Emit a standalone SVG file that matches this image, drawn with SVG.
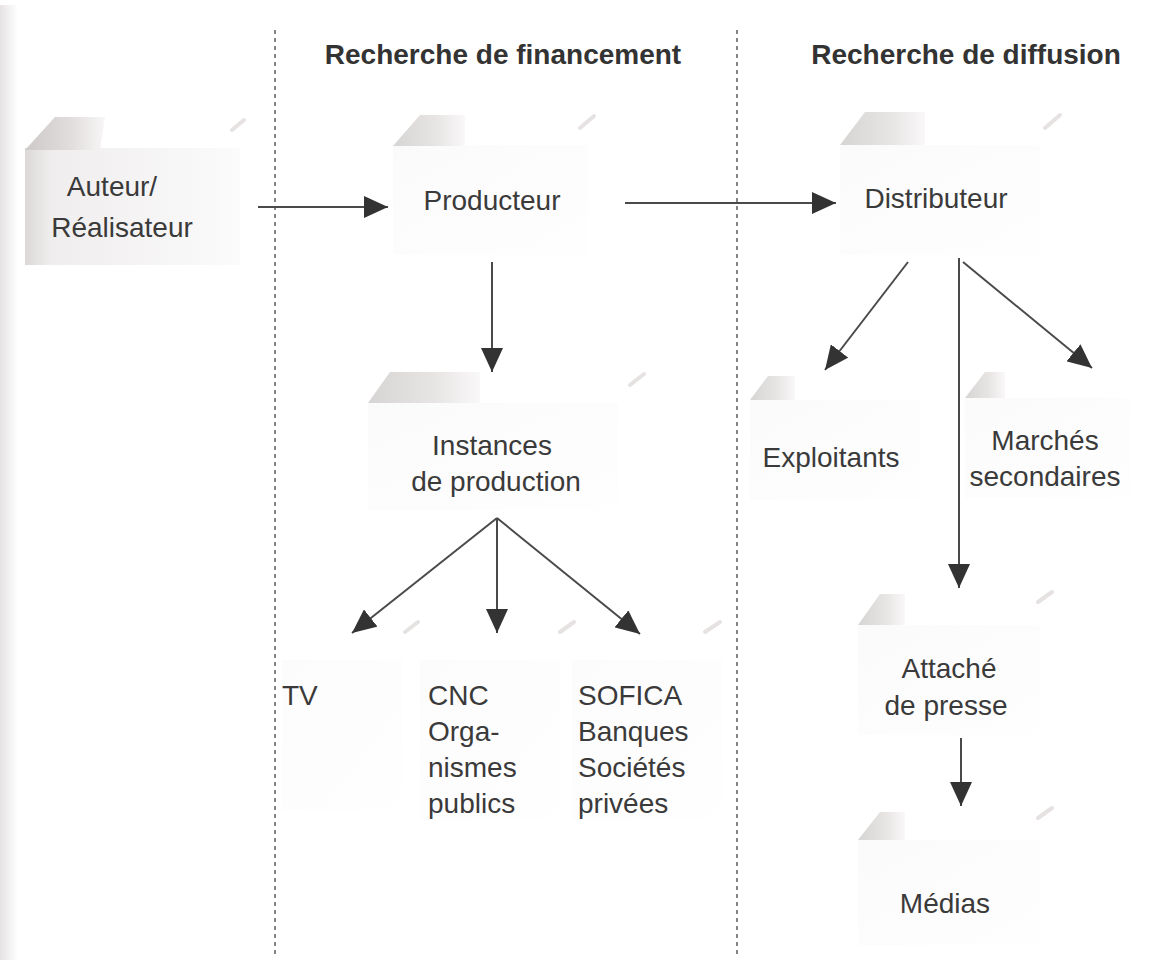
<svg xmlns="http://www.w3.org/2000/svg" width="1160" height="965" viewBox="0 0 1160 965">
<style>
.t{font-family:"Liberation Sans",Arial,sans-serif;font-size:28px;fill:#3a3a3a}
.h{font-family:"Liberation Sans",Arial,sans-serif;font-size:28px;font-weight:bold;fill:#333}
.c{text-anchor:middle}
.box{fill:url(#boxg)}
.tab{fill:url(#tabg)}
.corner{stroke:#e6e2e2;stroke-width:4;stroke-linecap:round}
.sep{stroke:#666;stroke-width:1.6;stroke-dasharray:4 4;fill:none}
.con{stroke:#4a4a4a;stroke-width:2;fill:none;marker-end:url(#ah)}
</style>
<defs>
<linearGradient id="tabg" x1="0" y1="0" x2="1" y2="0">
<stop offset="0" stop-color="#cdc9c9"/>
<stop offset="0.6" stop-color="#e2dede"/>
<stop offset="1" stop-color="#f8f6f6"/>
</linearGradient>
<linearGradient id="boxg" x1="0" y1="0" x2="1" y2="1">
<stop offset="0" stop-color="#f4f2f2"/>
<stop offset="1" stop-color="#fefdfd"/>
</linearGradient>
<linearGradient id="edge" x1="0" y1="0" x2="1" y2="0">
<stop offset="0" stop-color="#e6e2e4"/>
<stop offset="1" stop-color="#ffffff"/>
</linearGradient>
<linearGradient id="autg" x1="0" y1="0" x2="1" y2="0">
<stop offset="0" stop-color="#dcd8d8"/>
<stop offset="0.12" stop-color="#efeded"/>
<stop offset="1" stop-color="#fcfbfb"/>
</linearGradient>
<marker id="ah" viewBox="0 0 24 22" refX="24" refY="11" markerWidth="24" markerHeight="22" markerUnits="userSpaceOnUse" orient="auto">
<path d="M0,0 L24,11 L0,22 z" fill="#333"/>
</marker>
</defs>
<rect x="0" y="0" width="1160" height="965" fill="#ffffff"/>
<rect x="0" y="5" width="18" height="955" fill="url(#edge)"/>

<g id="separators">
<line class="sep" x1="275" y1="30" x2="275" y2="955"/>
<line class="sep" x1="737" y1="30" x2="737" y2="955"/>
</g>

<g id="headers">
<text class="h c" x="503" y="64">Recherche de financement</text>
<text class="h c" x="966" y="64">Recherche de diffusion</text>
</g>

<g id="node-auteur">
<rect x="25" y="148" width="215" height="117" fill="url(#autg)"/>
<polygon class="tab" points="25,150 55,117 105,117 100,150"/>
<line class="corner" x1="232" y1="130" x2="244" y2="120"/>
<text class="t c" x="112" y="196">Auteur/</text>
<text class="t c" x="122" y="237">Réalisateur</text>
</g>

<g id="node-producteur">
<rect class="box" x="393" y="145" width="195" height="110" opacity="0.35"/>
<polygon class="tab" points="393,146 420,115 465,115 465,146" opacity="0.8"/>
<line class="corner" x1="580" y1="128" x2="594" y2="116"/>
<text class="t c" x="492" y="210">Producteur</text>
</g>

<g id="node-distributeur">
<rect class="box" x="840" y="145" width="200" height="110" opacity="0.35"/>
<polygon class="tab" points="840,145 865,112 925,112 925,145" opacity="0.8"/>
<line class="corner" x1="1045" y1="128" x2="1060" y2="115"/>
<text class="t c" x="936" y="208">Distributeur</text>
</g>

<g id="node-instances">
<rect class="box" x="368" y="403" width="250" height="107" opacity="0.35"/>
<polygon class="tab" points="368,403 390,372 480,372 480,403" opacity="0.8"/>
<line class="corner" x1="630" y1="385" x2="644" y2="374"/>
<text class="t c" x="492" y="455">Instances</text>
<text class="t c" x="496" y="491">de production</text>
</g>

<g id="node-exploitants">
<rect class="box" x="750" y="400" width="170" height="100" opacity="0.35"/>
<polygon class="tab" points="750,400 768,376 795,376 795,400" opacity="0.8"/>
<text class="t c" x="831" y="467">Exploitants</text>
</g>

<g id="node-marches">
<rect class="box" x="965" y="398" width="165" height="100" opacity="0.35"/>
<polygon class="tab" points="965,398 985,372 1005,372 1005,398" opacity="0.8"/>
<text class="t c" x="1045" y="450">Marchés</text>
<text class="t c" x="1045" y="486">secondaires</text>
</g>

<g id="node-tv">
<rect class="box" x="282" y="660" width="120" height="150" opacity="0.25"/>
<line class="corner" x1="405" y1="632" x2="418" y2="622"/>
<text class="t" x="282" y="705">TV</text>
</g>

<g id="node-cnc">
<rect class="box" x="420" y="660" width="140" height="160" opacity="0.25"/>
<line class="corner" x1="560" y1="632" x2="574" y2="622"/>
<text class="t" x="428" y="705">CNC</text>
<text class="t" x="428" y="741">Orga-</text>
<text class="t" x="428" y="777">nismes</text>
<text class="t" x="428" y="813">publics</text>
</g>

<g id="node-sofica">
<rect class="box" x="572" y="660" width="150" height="160" opacity="0.25"/>
<line class="corner" x1="705" y1="632" x2="720" y2="622"/>
<text class="t" x="578" y="705">SOFICA</text>
<text class="t" x="578" y="741">Banques</text>
<text class="t" x="578" y="777">Sociétés</text>
<text class="t" x="578" y="813">privées</text>
</g>

<g id="node-attache">
<rect class="box" x="858" y="625" width="182" height="110" opacity="0.35"/>
<polygon class="tab" points="858,625 880,594 905,594 905,625" opacity="0.8"/>
<line class="corner" x1="1038" y1="602" x2="1052" y2="592"/>
<text class="t c" x="949" y="678">Attaché</text>
<text class="t c" x="946" y="715">de presse</text>
</g>

<g id="node-medias">
<rect class="box" x="858" y="840" width="182" height="105" opacity="0.35"/>
<polygon class="tab" points="858,840 880,812 905,812 905,840" opacity="0.8"/>
<line class="corner" x1="1038" y1="818" x2="1052" y2="808"/>
<text class="t c" x="945" y="913">Médias</text>
</g>

<g id="connectors">
<line class="con" x1="258" y1="207" x2="388" y2="207"/>
<line class="con" x1="625" y1="203" x2="836" y2="203"/>
<line class="con" x1="492" y1="262" x2="492" y2="372"/>
<line class="con" x1="497" y1="518" x2="352" y2="633"/>
<line class="con" x1="497" y1="518" x2="497" y2="633"/>
<line class="con" x1="497" y1="518" x2="640" y2="634"/>
<line class="con" x1="908" y1="262" x2="825" y2="370"/>
<line class="con" x1="959" y1="258" x2="959" y2="588"/>
<line class="con" x1="963" y1="262" x2="1092" y2="368"/>
<line class="con" x1="961" y1="738" x2="961" y2="806"/>
</g>
</svg>
